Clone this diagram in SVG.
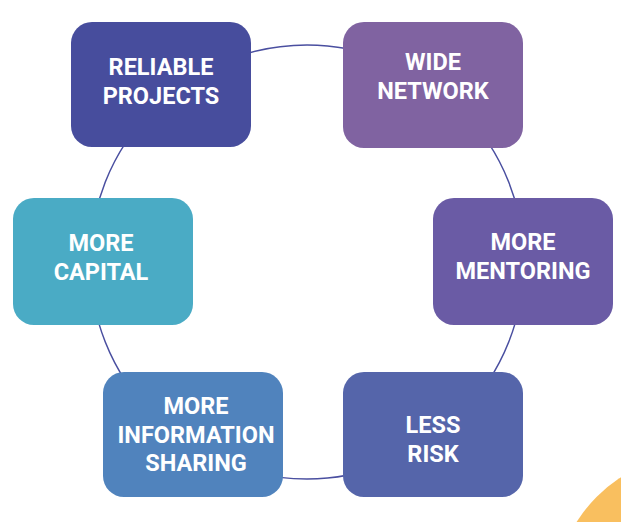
<svg xmlns="http://www.w3.org/2000/svg" width="621" height="522" viewBox="0 0 621 522">
<style>
.box{stroke:none}
.lbl{font-family:Roboto,"Liberation Sans",sans-serif;font-weight:700;font-size:23.5px;fill:#ffffff;text-anchor:middle}
.conn{fill:none;stroke:#4A4FA0;stroke-width:1.4}
</style>
<rect x="0" y="0" width="621" height="522" fill="#ffffff"/>
<circle cx="700" cy="600" r="146" fill="#F9BF5F"/>
<g id="connectors">
<circle class="conn" cx="307" cy="262" r="217"/>
</g>
<g id="reliable-projects">
<rect class="box" x="71" y="22" width="180" height="125" rx="21" fill="#474D9D"/>
<text class="lbl" x="161" y="75">RELIABLE</text>
<text class="lbl" x="161" y="103.5">PROJECTS</text>
</g>
<g id="wide-network">
<rect class="box" x="343" y="22" width="180" height="126" rx="21" fill="#8063A1"/>
<text class="lbl" x="433" y="70">WIDE</text>
<text class="lbl" x="433" y="98.5">NETWORK</text>
</g>
<g id="more-capital">
<rect class="box" x="13" y="198" width="180" height="127" rx="21" fill="#4AABC5"/>
<text class="lbl" x="101" y="251">MORE</text>
<text class="lbl" x="101" y="279.5">CAPITAL</text>
</g>
<g id="more-mentoring">
<rect class="box" x="433" y="198" width="180" height="127" rx="21" fill="#6A5BA5"/>
<text class="lbl" x="523" y="250">MORE</text>
<text class="lbl" x="523" y="278.5">MENTORING</text>
</g>
<g id="more-information-sharing">
<rect class="box" x="103" y="372" width="180" height="125" rx="21" fill="#5083BD"/>
<text class="lbl" x="196" y="414">MORE</text>
<text class="lbl" x="196" y="442.5">INFORMATION</text>
<text class="lbl" x="196" y="471">SHARING</text>
</g>
<g id="less-risk">
<rect class="box" x="343" y="372" width="180" height="125" rx="21" fill="#5565AA"/>
<text class="lbl" x="433" y="433">LESS</text>
<text class="lbl" x="433" y="461.5">RISK</text>
</g>
</svg>
